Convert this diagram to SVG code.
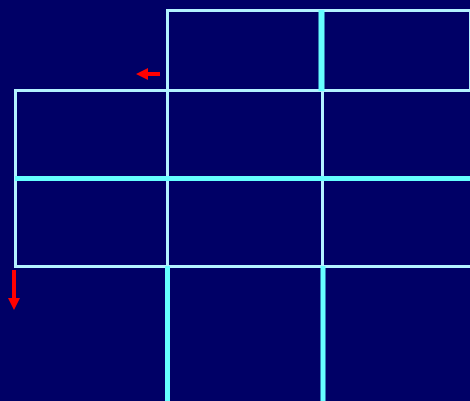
<svg xmlns="http://www.w3.org/2000/svg" width="470" height="401" viewBox="0 0 470 401">
<style>
.lt{stroke:#b3f2ff;stroke-width:3;fill:none}
.cy{stroke:#66ffff;fill:none}
.ar{fill:#ff0000}
</style>
<rect x="0" y="0" width="470" height="401" fill="#000066"/>
<g id="table-lines">
<rect class="lt" x="167.5" y="10.5" width="303" height="80"/>
<line class="lt" x1="14" y1="90.5" x2="470" y2="90.5"/>
<line class="lt" x1="15.5" y1="90.5" x2="15.5" y2="266.5"/>
<line class="lt" x1="14" y1="266.5" x2="470" y2="266.5"/>
<line class="lt" x1="167.5" y1="10.5" x2="167.5" y2="266.5"/>
<line class="lt" x1="322.5" y1="90.5" x2="322.5" y2="266.5"/>
</g>
<g id="cyan-lines">
<line class="cy" stroke-width="6" x1="321.5" y1="10" x2="321.5" y2="91"/>
<line class="cy" stroke-width="5" x1="15" y1="178.5" x2="470" y2="178.5"/>
<line class="cy" stroke-width="5" x1="167.5" y1="266" x2="167.5" y2="401"/>
<line class="cy" stroke-width="5" x1="323" y1="266" x2="323" y2="401"/>
</g>
<g id="arrows">
<polygon class="ar" points="136,74 148,68 148,72 160,72 160,76 148,76 148,80"/>
<polygon class="ar" points="14,310 8,298 12,298 12,270 16,270 16,298 20,298"/>
</g>
</svg>
